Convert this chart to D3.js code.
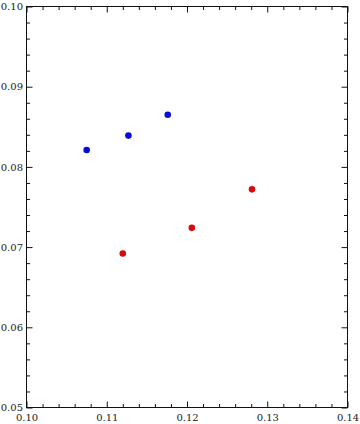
<!DOCTYPE html>
<html>
<head>
<meta charset="utf-8">
<script src="https://cdn.jsdelivr.net/npm/d3@7"></script>
<style>
  html, body { margin: 0; padding: 0; background: #fff; }
  .tick text { font-family: "DejaVu Serif", serif; font-size: 10px; fill: #222; }
</style>
</head>
<body>
<div id="chart"></div>
<script>
const blueX = [0.1075, 0.1127, 0.1176];
const blueY = [0.0821, 0.0839, 0.0865];
const redX = [0.1120, 0.1206, 0.1281];
const redY = [0.0692, 0.0724, 0.0772];

const xMajor = [0.10, 0.11, 0.12, 0.13, 0.14];
const yMajor = [0.05, 0.06, 0.07, 0.08, 0.09, 0.10];

const width = 360;
const height = 424;
const padLeft = 26.5, padRight = 347.5, padTop = 6.5, padBottom = 407.5;

const svg = d3.select("#chart")
    .append("svg")
    .attr("width", width)
    .attr("height", height);

const x = d3.scaleLinear().domain([0.10, 0.14]).range([padLeft, padRight]);
const y = d3.scaleLinear().domain([0.05, 0.10]).range([padBottom, padTop]);

const xMinor = d3.range(0, 21).map(i => 0.10 + i * 0.002).filter(v => !xMajor.some(m => Math.abs(m - v) < 1e-9));
const yMinor = d3.range(0, 26).map(i => 0.05 + i * 0.002).filter(v => !yMajor.some(m => Math.abs(m - v) < 1e-9));

function styleAxis(g){
    g.select(".domain").remove();
    g.selectAll("line").attr("stroke", "#111");
}

// major ticks with labels
svg.append("g")
    .attr("transform", `translate(0,${padBottom})`)
    .call(d3.axisBottom(x).tickValues(xMajor).tickFormat(d3.format(".2f")).tickSizeInner(-6).tickSizeOuter(0).tickPadding(6.5))
    .call(styleAxis);

svg.append("g")
    .attr("transform", `translate(${padLeft},0)`)
    .call(d3.axisLeft(y).tickValues(yMajor).tickFormat(d3.format(".2f")).tickSizeInner(-6).tickSizeOuter(0).tickPadding(3.5))
    .call(styleAxis);

// minor ticks
svg.append("g")
    .attr("transform", `translate(0,${padBottom})`)
    .call(d3.axisBottom(x).tickValues(xMinor).tickFormat("").tickSizeInner(-3.5).tickSizeOuter(0))
    .call(styleAxis);

svg.append("g")
    .attr("transform", `translate(${padLeft},0)`)
    .call(d3.axisLeft(y).tickValues(yMinor).tickFormat("").tickSizeInner(-3.5).tickSizeOuter(0))
    .call(styleAxis);

// top and right mirrored ticks
svg.append("g")
    .attr("transform", `translate(0,${padTop})`)
    .call(d3.axisTop(x).tickValues(xMajor).tickFormat("").tickSizeInner(-6).tickSizeOuter(0))
    .call(styleAxis);
svg.append("g")
    .attr("transform", `translate(0,${padTop})`)
    .call(d3.axisTop(x).tickValues(xMinor).tickFormat("").tickSizeInner(-3.5).tickSizeOuter(0))
    .call(styleAxis);
svg.append("g")
    .attr("transform", `translate(${padRight},0)`)
    .call(d3.axisRight(y).tickValues(yMajor).tickFormat("").tickSizeInner(-6).tickSizeOuter(0))
    .call(styleAxis);
svg.append("g")
    .attr("transform", `translate(${padRight},0)`)
    .call(d3.axisRight(y).tickValues(yMinor).tickFormat("").tickSizeInner(-3.5).tickSizeOuter(0))
    .call(styleAxis);

// frame
svg.append("rect")
    .attr("x", padLeft)
    .attr("y", padTop)
    .attr("width", padRight - padLeft)
    .attr("height", padBottom - padTop)
    .attr("fill", "none")
    .attr("stroke", "#111")
    .attr("stroke-width", 1);

const blue = blueX.map((v, i) => ({x: v, y: blueY[i]}));
const red = redX.map((v, i) => ({x: v, y: redY[i]}));

svg.selectAll(".blue")
    .data(blue)
    .enter()
    .append("circle")
    .attr("class", "blue")
    .attr("cx", d => x(d.x))
    .attr("cy", d => y(d.y))
    .attr("r", 3.3)
    .attr("fill", "#0a0ad8");

svg.selectAll(".red")
    .data(red)
    .enter()
    .append("circle")
    .attr("class", "red")
    .attr("cx", d => x(d.x))
    .attr("cy", d => y(d.y))
    .attr("r", 3.3)
    .attr("fill", "#d80a0a");
</script>
</body>
</html>
